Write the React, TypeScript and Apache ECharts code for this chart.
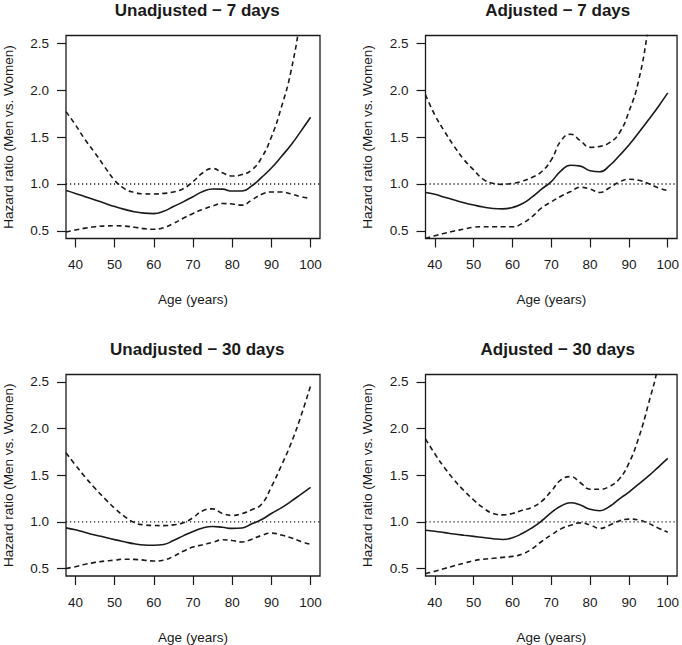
import React, { useEffect, useRef } from "react";
import * as echarts from "echarts";

const AGES = [37.6, 40, 42.5, 45, 47.5, 50, 52.5, 55, 57.5, 60, 62.5, 65, 67.5, 70, 72.5, 75, 77.5, 80, 82.5, 85, 87.5, 90, 92.5, 95, 97.5, 100];

const X_TICKS = [40, 50, 60, 70, 80, 90, 100];
const Y_TICKS = [0.5, 1.0, 1.5, 2.0, 2.5];
const X_MIN = 37.6;
const X_MAX = 102.4;
const Y_MIN = 0.42;
const Y_MAX = 2.58;
const REF_VALUE = 1.0;

const TITLES = ["Unadjusted \u2212 7 days", "Adjusted \u2212 7 days", "Unadjusted \u2212 30 days", "Adjusted \u2212 30 days"];
const X_NAME = "Age (years)";
const Y_NAME = "Hazard ratio (Men vs. Women)";

// Unadjusted - 7 days
const UN7_EST = [0.93, 0.9, 0.865, 0.83, 0.795, 0.76, 0.73, 0.705, 0.69, 0.685, 0.71, 0.76, 0.81, 0.865, 0.92, 0.947, 0.945, 0.925, 0.925, 0.98, 1.07, 1.17, 1.29, 1.415, 1.56, 1.71];
const UN7_UP = [1.77, 1.63, 1.47, 1.33, 1.18, 1.04, 0.95, 0.91, 0.895, 0.893, 0.9, 0.915, 0.95, 1.025, 1.12, 1.165, 1.12, 1.085, 1.1, 1.15, 1.28, 1.5, 1.81, 2.2, 2.8, 3.6];
const UN7_LO = [0.49, 0.51, 0.53, 0.545, 0.553, 0.556, 0.552, 0.54, 0.525, 0.518, 0.535, 0.58, 0.635, 0.687, 0.73, 0.766, 0.792, 0.787, 0.775, 0.83, 0.89, 0.915, 0.915, 0.895, 0.865, 0.847];

// Adjusted - 7 days
const AD7_EST = [0.91, 0.89, 0.86, 0.83, 0.8, 0.776, 0.755, 0.74, 0.735, 0.75, 0.79, 0.86, 0.945, 1.025, 1.14, 1.2, 1.19, 1.14, 1.13, 1.195, 1.3, 1.415, 1.545, 1.68, 1.82, 1.97];
const AD7_UP = [1.95, 1.735, 1.56, 1.4, 1.26, 1.15, 1.05, 1.007, 0.996, 1.007, 1.03, 1.07, 1.13, 1.256, 1.46, 1.53, 1.46, 1.39, 1.4, 1.44, 1.54, 1.77, 2.1, 2.67, 3.4, 4.3];
const AD7_LO = [0.42, 0.45, 0.475, 0.5, 0.52, 0.54, 0.545, 0.545, 0.545, 0.545, 0.58, 0.65, 0.745, 0.81, 0.87, 0.92, 0.965, 0.945, 0.91, 0.96, 1.02, 1.05, 1.04, 1.005, 0.96, 0.93];

// Unadjusted - 30 days
const UN30_EST = [0.936, 0.915, 0.887, 0.86, 0.835, 0.81, 0.787, 0.765, 0.752, 0.75, 0.758, 0.8, 0.85, 0.897, 0.935, 0.95, 0.942, 0.93, 0.935, 0.98, 1.025, 1.09, 1.15, 1.22, 1.295, 1.37];
const UN30_UP = [1.74, 1.61, 1.48, 1.36, 1.25, 1.146, 1.06, 0.993, 0.968, 0.962, 0.96, 0.968, 0.99, 1.045, 1.12, 1.14, 1.09, 1.07, 1.09, 1.13, 1.19, 1.377, 1.6, 1.84, 2.13, 2.46];
const UN30_LO = [0.5, 0.52, 0.545, 0.566, 0.58, 0.59, 0.6, 0.598, 0.59, 0.58, 0.59, 0.63, 0.685, 0.73, 0.755, 0.78, 0.808, 0.8, 0.785, 0.815, 0.855, 0.88, 0.86, 0.83, 0.79, 0.76];

// Adjusted - 30 days
const AD30_EST = [0.91, 0.9, 0.885, 0.87, 0.857, 0.845, 0.832, 0.82, 0.812, 0.83, 0.875, 0.935, 1.01, 1.1, 1.17, 1.205, 1.18, 1.135, 1.12, 1.165, 1.245, 1.32, 1.405, 1.49, 1.585, 1.68];
const AD30_UP = [1.89, 1.73, 1.58, 1.45, 1.335, 1.235, 1.15, 1.09, 1.075, 1.09, 1.125, 1.155, 1.22, 1.33, 1.45, 1.485, 1.42, 1.35, 1.35, 1.38, 1.46, 1.63, 1.9, 2.26, 2.68, 3.4];
const AD30_LO = [0.445, 0.47, 0.5, 0.53, 0.557, 0.584, 0.6, 0.61, 0.62, 0.63, 0.655, 0.71, 0.79, 0.86, 0.925, 0.965, 0.99, 0.968, 0.93, 0.965, 1.01, 1.03, 1.02, 0.985, 0.935, 0.89];

const PANELS = [
  { est: UN7_EST, up: UN7_UP, lo: UN7_LO },
  { est: AD7_EST, up: AD7_UP, lo: AD7_LO },
  { est: UN30_EST, up: UN30_UP, lo: UN30_LO },
  { est: AD30_EST, up: AD30_UP, lo: AD30_LO },
];

const GRIDS = [
  { left: 64.5, top: 35.5, width: 255.5, height: 203 },
  { left: 425.5, top: 35.5, width: 254.5, height: 203 },
  { left: 64.5, top: 374.5, width: 255.5, height: 203 },
  { left: 425.5, top: 374.5, width: 254.5, height: 203 },
];

const FONT = "'Liberation Sans', Arial, Helvetica, sans-serif";
const INK = "#1a1a1a";

export default function App() {
  const ref = useRef<HTMLDivElement>(null);
  useEffect(() => {
    if (!ref.current) return;
    const chart = echarts.init(ref.current, null, { renderer: "svg" });
    const pairs = (ys: number[]) => AGES.map((a, i) => [a, ys[i]]);

    const series: any[] = [];
    PANELS.forEach((p, k) => {
      const base = {
        type: "line",
        xAxisIndex: k,
        yAxisIndex: k,
        symbol: "none",
        silent: true,
        clip: true,
        smooth: 0.5,
      };
      series.push({
        ...base,
        smooth: false,
        data: [[X_MIN, REF_VALUE], [X_MAX, REF_VALUE]],
        lineStyle: { color: INK, width: 1.3, type: [1.2, 2.8] },
      });
      series.push({ ...base, data: pairs(p.up), lineStyle: { color: INK, width: 1.6, type: [5, 3.5] } });
      series.push({ ...base, data: pairs(p.lo), lineStyle: { color: INK, width: 1.6, type: [5, 3.5] } });
      series.push({ ...base, data: pairs(p.est), lineStyle: { color: INK, width: 1.6, type: "solid" } });
    });

    const option: any = {
      animation: false,
      textStyle: { fontFamily: FONT },
      title: GRIDS.map((g, k) => ({
        text: TITLES[k],
        left: g.left + g.width / 2,
        top: k < 2 ? -3 : 336,
        textAlign: "center",
        textStyle: { fontFamily: FONT, fontWeight: "bold", fontSize: 17, color: INK },
      })),
      grid: GRIDS.map((g) => ({
        ...g,
        show: true,
        borderColor: INK,
        borderWidth: 1.3,
        backgroundColor: "transparent",
        containLabel: false,
      })),
      xAxis: GRIDS.map((_, k) => ({
        type: "value",
        gridIndex: k,
        min: X_MIN,
        max: X_MAX,
        name: X_NAME,
        nameLocation: "middle",
        nameGap: 54,
        nameTextStyle: { fontFamily: FONT, fontSize: 13.5, color: INK },
        axisLine: { show: false },
        splitLine: { show: false },
        axisTick: { show: true, length: 9, inside: false, customValues: X_TICKS, lineStyle: { color: INK, width: 1.2 } },
        axisLabel: { show: true, customValues: X_TICKS, margin: 19, fontFamily: FONT, fontSize: 13.5, color: INK },
      })),
      yAxis: GRIDS.map((_, k) => ({
        type: "value",
        gridIndex: k,
        min: Y_MIN,
        max: Y_MAX,
        name: Y_NAME,
        nameLocation: "middle",
        nameGap: 51,
        nameTextStyle: { fontFamily: FONT, fontSize: 13.5, color: INK },
        axisLine: { show: false },
        splitLine: { show: false },
        axisTick: { show: true, length: 9, inside: false, customValues: Y_TICKS, lineStyle: { color: INK, width: 1.2 } },
        axisLabel: {
          show: true,
          customValues: Y_TICKS,
          margin: 17,
          fontFamily: FONT,
          fontSize: 13.5,
          color: INK,
          formatter: (v: number) => v.toFixed(1),
        },
      })),
      series,
    };
    chart.setOption(option);
    return () => chart.dispose();
  }, []);
  return (
    <div
      ref={ref}
      style={{ position: "fixed", left: 0, top: 0, width: 682, height: 645, background: "#fff" }}
    />
  );
}
